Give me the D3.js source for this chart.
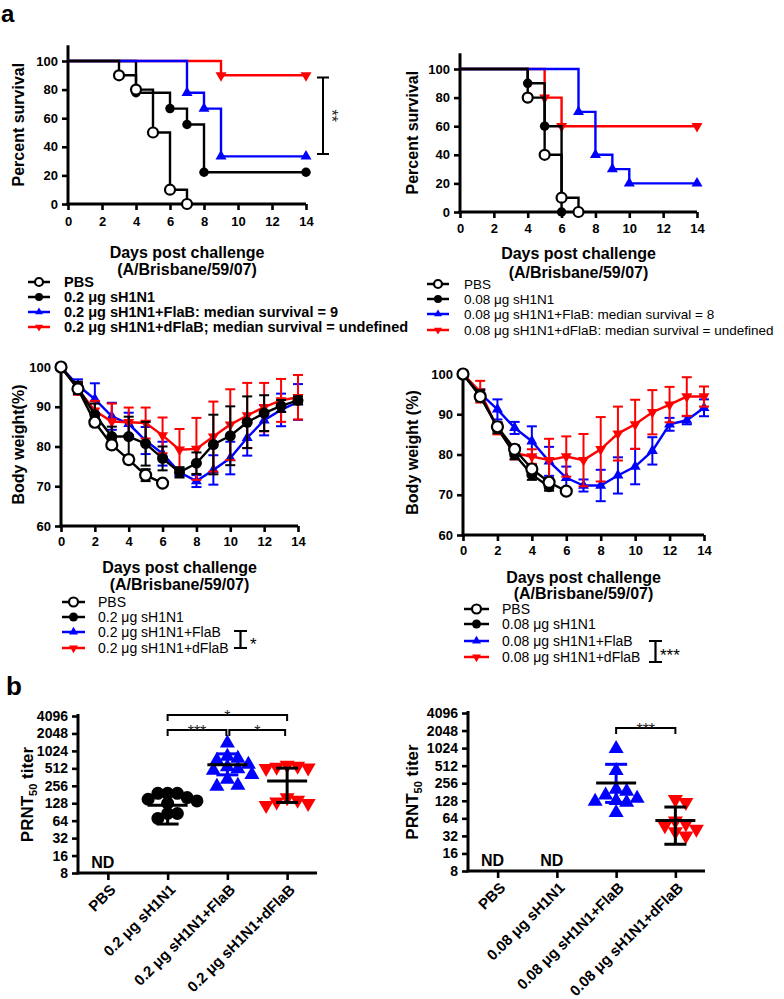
<!DOCTYPE html>
<html><head><meta charset="utf-8">
<script src="https://cdn.jsdelivr.net/npm/d3@7"></script>
<style>body{margin:0;background:#fff}svg{display:block}</style>
</head><body><svg id="c" width="784" height="999"></svg>
<script>
// ---------------- DATA ----------------
const survTicksX = [0,2,4,6,8,10,12,14];
const survTicksY = [0,20,40,60,80,100];
// Kaplan-Meier steps: [day, percent]
const survL_PBS   = [[3,90],[4,80],[5,50],[6,10],[7,0]];
const survL_sH    = [[4,77.8],[6,66.7],[7,55.6],[8,22.2],[14,22.2]];
const survL_FlaB  = [[7,77.8],[8,66.7],[9,33.3],[14,33.3]];
const survL_dFlaB = [[9,90],[14,90]];
const survR_PBS   = [[4,80],[5,40],[6,10],[7,0]];
const survR_sH    = [[4,90],[5,60],[6,0]];
const survR_FlaB  = [[7,70],[8,40],[9,30],[10,20],[14,20]];
const survR_dFlaB = [[5,80],[6,60],[14,60]];
const legendL_surv = ["PBS","0.2 μg sH1N1","0.2 μg sH1N1+FlaB: median survival = 9","0.2 μg sH1N1+dFlaB; median survival = undefined"];
const legendR_surv = ["PBS","0.08 μg sH1N1","0.08 μg sH1N1+FlaB: median survival = 8","0.08 μg sH1N1+dFlaB: median survival = undefined"];

const days = [0,1,2,3,4,5,6,7,8,9,10,11,12,13,14];
const wTicksY = [60,70,80,90,100];
const wL_PBS      = [100,94.5,86.1,80.4,76.7,72.8,70.8];
const wL_PBS_sd   = [0,1.2,1,1,1,1.5,0];
const wL_sH       = [100,94.8,88,82.5,82.5,80.7,77,73.5,75.8,80.5,82.7,86.1,88.4,90.2,91.6];
const wL_sH_sd    = [0,1.5,2.8,2.5,5,5.5,3,1.3,2.7,7.5,7.4,6.5,4.5,1.5,1];
const wL_FlaB     = [100,95.4,91.9,87.6,85.7,81.5,78.2,73.5,71.3,74.1,77.1,82.2,86.6,89.2,91.2];
const wL_FlaB_sd  = [0,1.5,4,3.4,2.8,3.4,3,1,1.5,3.7,4.1,4.5,3.8,4.1,4.5];
const wL_dFlaB    = [100,94.5,89,86.3,86.1,85.9,82.8,79.2,79.4,82.5,85.5,87.8,89.9,91.6,92.4];
const wL_dFlaB_sd = [0,1.5,2.5,4.5,3.7,3.9,4.5,5.2,7.8,8.8,8.9,8.2,6.1,5.4,5.6];
const wR_PBS      = [100,94.4,86.9,81.3,76.4,73.1,70.9];
const wR_PBS_sd   = [0,1,1,1,1,1,0];
const wR_sH       = [100,94.8,86.6,80,75,72];
const wR_sH_sd    = [0,1.2,1.3,1.2,1.3,1];
const wR_FlaB     = [100,95.2,91.2,86.6,83.3,78.3,74.2,72.3,72.3,74.8,77,80.9,87.5,88.5,91.6];
const wR_FlaB_sd  = [0,1,2.5,1.5,3.7,3.6,2.8,1.5,3.9,4.5,4.4,3.4,1.6,1,2.1];
const wR_dFlaB    = [100,95.6,86.5,80.3,79.5,78.6,79.5,78.6,81.3,85.2,87.5,90.5,92.4,94.4,94.4];
const wR_dFlaB_sd = [0,2.7,1.5,1.5,1.8,5.3,5,6.5,8,6.7,6.1,5.5,4.4,4.8,2.5];
const legendL_w = ["PBS","0.2 μg sH1N1","0.2 μg sH1N1+FlaB","0.2 μg sH1N1+dFlaB"];
const legendR_w = ["PBS","0.08 μg sH1N1","0.08 μg sH1N1+FlaB","0.08 μg sH1N1+dFlaB"];

const prntTicks = [8,16,32,64,128,256,512,1024,2048,4096];
const catsL = ["PBS","0.2 μg sH1N1","0.2 μg sH1N1+FlaB","0.2 μg sH1N1+dFlaB"];
const catsR = ["PBS","0.08 μg sH1N1","0.08 μg sH1N1+FlaB","0.08 μg sH1N1+dFlaB"];
const prntL_sH    = [190,190,190,160,150,140,128,85,85,70];
const prntL_FlaB  = [1390,820,760,700,600,540,500,470,400,330,260,250];
const prntL_dFlaB = [580,560,540,520,512,160,145,135,128,118];
const prntL_mean  = [null,118,590,310];
const prntL_lo    = [null,56,395,132];
const prntL_hi    = [null,180,910,516];
const prntR_FlaB  = [1000,420,200,185,160,140,128,125,120,80];
const prntR_dFlaB = [135,120,58,52,48,42,38,32];
const prntR_mean  = [null,null,258,59];
const prntR_lo    = [null,null,120,23];
const prntR_hi    = [null,null,540,100];
const ndL = [true,false,false,false];
const ndR = [true,true,false,false];

// ---------------- HELPERS ----------------
const FONT = '"Liberation Sans", Arial, Helvetica, sans-serif';
const BLUE = '#0000ff', RED = '#ff0000';
const svg = d3.select('#c');

function txt(g, x, y, s, size, bold, anchor) {
  return g.append('text').attr('x', x).attr('y', y).text(s)
    .attr('font-family', FONT).attr('font-size', size)
    .attr('font-weight', bold ? 'bold' : 'normal')
    .attr('text-anchor', anchor || 'start').attr('fill', '#000');
}

function marker(g, type, x, y, s) {
  if (type === 'open') {
    g.append('circle').attr('cx', x).attr('cy', y).attr('r', s/2)
      .attr('fill', '#fff').attr('stroke', '#000').attr('stroke-width', 2.2);
  } else if (type === 'fill') {
    g.append('circle').attr('cx', x).attr('cy', y).attr('r', s/2).attr('fill', '#000');
  } else {
    const area = Math.sqrt(3)/4 * s * s;
    const p = d3.symbol().type(d3.symbolTriangle).size(area)();
    g.append('path').attr('d', p)
      .attr('transform', `translate(${x},${y}) rotate(${type === 'down' ? 180 : 0})`)
      .attr('fill', type === 'down' ? RED : BLUE);
  }
}

function styleAxis(g, size) {
  g.select('.domain').remove();
  g.selectAll('.tick line').attr('stroke', '#000').attr('stroke-width', 2.6);
  g.selectAll('.tick text').attr('font-family', FONT).attr('font-size', size || 13)
    .attr('font-weight', 'bold').attr('fill', '#000');
}

function axes(g, x, y, cfg) {
  const gx = g.append('g').attr('transform', `translate(0,${cfg.y0})`)
    .call(d3.axisBottom(x).tickValues(cfg.xt).tickSize(6).tickPadding(cfg.xpad || 5));
  styleAxis(gx);
  const gy = g.append('g').attr('transform', `translate(${cfg.x0},0)`)
    .call(d3.axisLeft(y).tickValues(cfg.yt).tickSize(6).tickPadding(4).tickFormat(cfg.fmt || d3.format('d')));
  styleAxis(gy, cfg.yfs);
  g.append('line').attr('x1', cfg.x0).attr('x2', cfg.x0).attr('y1', cfg.yTop).attr('y2', cfg.y0 + 1.3)
    .attr('stroke', '#000').attr('stroke-width', 3);
  g.append('line').attr('x1', cfg.x0 - 1.3).attr('x2', cfg.xEnd).attr('y1', cfg.y0).attr('y2', cfg.y0)
    .attr('stroke', '#000').attr('stroke-width', 3);
}

function ytitle(g, cx, cy, s) {
  txt(g, 0, 0, s, 16, true, 'middle').attr('dy', '0.35em')
    .attr('transform', `translate(${cx},${cy}) rotate(-90)`);
}

function xtitle(g, cx, y1, y2) {
  txt(g, cx, y1, 'Days post challenge', 16, true, 'middle').attr('dy', '0.35em');
  txt(g, cx, y2, '(A/Brisbane/59/07)', 16, true, 'middle').attr('dy', '0.35em');
}

function legend(g, items, types, x1, x2, tx, ys, size, bold, msz) {
  const colors = ['#000', '#000', BLUE, RED];
  items.forEach((s, i) => {
    g.append('line').attr('x1', x1).attr('x2', x2).attr('y1', ys[i]).attr('y2', ys[i])
      .attr('stroke', colors[i]).attr('stroke-width', 2.5);
    marker(g, types[i], (x1 + x2) / 2, ys[i], msz);
    txt(g, tx, ys[i], s, size, bold, 'start').attr('dy', '0.35em');
  });
}

const TYPES = ['open', 'fill', 'up', 'down'];
const COLS = ['#000', '#000', BLUE, RED];

function survPanel(cfg) {
  const g = svg.append('g');
  const x = d3.scaleLinear().domain([0, 14]).range([cfg.x0, cfg.x1]);
  const y = d3.scaleLinear().domain([0, 100]).range([cfg.y0, cfg.y100]);
  axes(g, x, y, {x0: cfg.x0, y0: cfg.y0, xEnd: cfg.x1, yTop: y(111), xt: survTicksX, yt: survTicksY, xpad: cfg.xpad});
  [3, 1, 2, 0].forEach(k => {
    const ev = cfg.series[k];
    const pts = [[0, 100]];
    let prev = 100;
    ev.forEach(([d, v]) => { pts.push([d, prev]); pts.push([d, v]); prev = v; });
    g.append('path').attr('d', d3.line().x(p => x(p[0])).y(p => y(p[1]))(pts))
      .attr('fill', 'none').attr('stroke', COLS[k]).attr('stroke-width', 2.4);
    ev.forEach(([d, v]) => marker(g, TYPES[k], x(d), y(v), TYPES[k] === 'open' ? 10 : (k > 1 ? 11 : 9.5)));
  });
  ytitle(g, cfg.ytx, (y(111) + cfg.y0) / 2, 'Percent survival');
  xtitle(g, (cfg.x0 + cfg.x1) / 2, cfg.t1, cfg.t2);
  legend(g, cfg.legend, TYPES, cfg.lx1, cfg.lx2, cfg.ltx, cfg.lys, cfg.lfs, cfg.lbold, 8);
  return {g, x, y};
}

function weightPanel(cfg) {
  const g = svg.append('g');
  const x = d3.scaleLinear().domain([0, 14]).range([cfg.x0, cfg.x1]);
  const y = d3.scaleLinear().domain([60, 100]).range([cfg.y0, cfg.y100]);
  axes(g, x, y, {x0: cfg.x0, y0: cfg.y0, xEnd: cfg.x1, yTop: y(101), xt: survTicksX, yt: wTicksY, xpad: cfg.xpad});
  [2, 3, 1, 0].forEach(k => {
    const m = cfg.means[k], sd = cfg.sds[k];
    const col = COLS[k];
    m.forEach((v, i) => {
      if (!sd[i]) return;
      const xx = x(days[i]);
      g.append('line').attr('x1', xx).attr('x2', xx).attr('y1', y(v - sd[i])).attr('y2', y(v + sd[i]))
        .attr('stroke', col).attr('stroke-width', 2);
      [v - sd[i], v + sd[i]].forEach(e => g.append('line').attr('x1', xx - 5).attr('x2', xx + 5)
        .attr('y1', y(e)).attr('y2', y(e)).attr('stroke', col).attr('stroke-width', 2));
    });
    g.append('path').attr('d', d3.line().x((v, i) => x(days[i])).y(v => y(v))(m))
      .attr('fill', 'none').attr('stroke', col).attr('stroke-width', 2.4);
    m.forEach((v, i) => marker(g, TYPES[k], x(days[i]), y(v), 11));
  });
  ytitle(g, cfg.ytx, (y(101) + cfg.y0) / 2, cfg.ytitle);
  xtitle(g, (cfg.x0 + cfg.x1) / 2, cfg.t1, cfg.t2);
  legend(g, cfg.legend, TYPES, cfg.lx1, cfg.lx2, cfg.ltx, cfg.lys, cfg.lfs, false, 9);
  return {g, x, y};
}

function swarm(vals, cx, y, r) {
  const placed = [];
  vals.slice().sort((a, b) => b - a).forEach(v => {
    const py = y(v);
    for (let k = 0; k < 80; k++) {
      const off = (k % 2 ? 1 : -1) * Math.ceil(k / 2) * r * 0.5;
      const px = cx + off;
      if (placed.every(p => Math.hypot(p.x - px, p.y - py) >= r * 1.5)) { placed.push({x: px, y: py, v}); break; }
    }
  });
  return placed;
}

function prntPanel(cfg) {
  const g = svg.append('g');
  const x = d3.scalePoint().domain(cfg.cats).range([cfg.x0, cfg.x1]).padding(0.5);
  const y = d3.scaleLog().base(2).domain([8, 4096]).range([cfg.y0, cfg.y4096]);
  const gx = g.append('g').attr('transform', `translate(0,${cfg.y0})`)
    .call(d3.axisBottom(x).tickSize(7).tickFormat(''));
  styleAxis(gx);
  const gy = g.append('g').attr('transform', `translate(${cfg.x0},0)`)
    .call(d3.axisLeft(y).tickValues(prntTicks).tickSize(6).tickPadding(4).tickFormat(d3.format('d')));
  styleAxis(gy, 14);
  g.append('line').attr('x1', cfg.x0).attr('x2', cfg.x0).attr('y1', y(4096) - 2).attr('y2', cfg.y0 + 1.3)
    .attr('stroke', '#000').attr('stroke-width', 3);
  g.append('line').attr('x1', cfg.x0 - 1.3).attr('x2', cfg.x1).attr('y1', cfg.y0).attr('y2', cfg.y0)
    .attr('stroke', '#000').attr('stroke-width', 3);
  cfg.cats.forEach(c => {
    txt(g, 0, 0, c, 15, true, 'end').attr('dy', '0.35em')
      .attr('transform', `translate(${x(c) + 5},${cfg.y0 + 14}) rotate(-45)`);
  });
  cfg.nd.forEach((nd, i) => { if (nd) txt(g, x(cfg.cats[i]) - 5, y(8) - 11, 'ND', 16, true, 'middle').attr('dy', '0.35em'); });
  cfg.points.forEach((vals, i) => {
    if (!vals) return;
    const type = TYPES[i];
    const r = type === 'fill' ? 6.5 : 7;
    swarm(vals, x(cfg.cats[i]), y, r).forEach(p => marker(g, type, p.x, p.y, type === 'fill' ? 13 : 15));
  });
  cfg.mean.forEach((m, i) => {
    if (m == null) return;
    const cx = x(cfg.cats[i]);
    const wcol = i === 2 ? BLUE : '#000';
    g.append('line').attr('x1', cx).attr('x2', cx).attr('y1', y(cfg.lo[i])).attr('y2', y(cfg.hi[i]))
      .attr('stroke', wcol).attr('stroke-width', 3);
    [cfg.lo[i], cfg.hi[i]].forEach(e => g.append('line').attr('x1', cx - 11).attr('x2', cx + 11)
      .attr('y1', y(e)).attr('y2', y(e)).attr('stroke', wcol).attr('stroke-width', 3));
    g.append('line').attr('x1', cx - 20).attr('x2', cx + 20).attr('y1', y(m)).attr('y2', y(m))
      .attr('stroke', '#000').attr('stroke-width', 3);
  });
  const t = g.append('text').attr('transform', `translate(${cfg.ytx},${(y(4096) + cfg.y0) / 2}) rotate(-90)`)
    .attr('text-anchor', 'middle').attr('dy', '0.35em')
    .attr('font-family', FONT).attr('font-size', 17).attr('font-weight', 'bold');
  t.append('tspan').text('PRNT');
  t.append('tspan').text('50').attr('font-size', 11).attr('dy', 4);
  t.append('tspan').text(' titer').attr('dy', -4);
  cfg.sig.forEach(s => {
    const xa = x(cfg.cats[s.a]) + (s.da || 0), xb = x(cfg.cats[s.b]) + (s.db || 0);
    g.append('path').attr('d', `M${xa},${s.y + 6}V${s.y}H${xb}V${s.y + 6}`)
      .attr('fill', 'none').attr('stroke', '#000').attr('stroke-width', 2);
    txt(g, (xa + xb) / 2, s.y + 7, s.label, 16, false, 'middle').attr('fill', '#222');
  });
  return {g, x, y};
}

// ---------------- PANELS ----------------
txt(svg, 1, 22, 'a', 24, true, 'start');
txt(svg, 6, 695, 'b', 26, true, 'start');

const p1 = survPanel({
  x0: 68, x1: 306, y0: 204, y100: 61, xpad: 7, ytx: 18, t1: 252, t2: 269,
  series: [survL_PBS, survL_sH, survL_FlaB, survL_dFlaB],
  legend: legendL_surv, lx1: 28, lx2: 50, ltx: 64, lys: [282, 297, 312, 327], lfs: 14.5, lbold: true
});
(function () {
  const g = p1.g, y = p1.y;
  const xb = 323;
  g.append('path').attr('d', `M${xb - 6},${y(88.5)}H${xb + 6}M${xb},${y(88.5)}V${y(35)}M${xb - 6},${y(35)}H${xb + 6}`)
    .attr('fill', 'none').attr('stroke', '#000').attr('stroke-width', 2);
  txt(g, 0, 0, '**', 16, false, 'middle').attr('fill', '#222')
    .attr('transform', `translate(${xb + 3},${(y(88.5) + y(35)) / 2}) rotate(90)`);
})();

survPanel({
  x0: 460, x1: 697, y0: 212, y100: 69, xpad: 6, ytx: 412, t1: 253, t2: 272,
  series: [survR_PBS, survR_sH, survR_FlaB, survR_dFlaB],
  legend: legendR_surv, lx1: 427, lx2: 449, ltx: 464, lys: [284, 299, 314, 330], lfs: 13.5, lbold: false
});

const p3 = weightPanel({
  x0: 61, x1: 298, y0: 526, y100: 367, xpad: 5, ytx: 18, t1: 567, t2: 584, ytitle: 'Body weight(%)',
  means: [wL_PBS, wL_sH, wL_FlaB, wL_dFlaB], sds: [wL_PBS_sd, wL_sH_sd, wL_FlaB_sd, wL_dFlaB_sd],
  legend: legendL_w, lx1: 62, lx2: 85, ltx: 98, lys: [602, 617, 632, 648], lfs: 14
});
(function () {
  const g = p3.g;
  g.append('path').attr('d', 'M234,631H247M240.5,631V648M234,648H247')
    .attr('fill', 'none').attr('stroke', '#000').attr('stroke-width', 2.2);
  txt(g, 250, 650, '*', 17, false, 'start');
})();

const p4 = weightPanel({
  x0: 463, x1: 704, y0: 535, y100: 374, xpad: 5, ytx: 412, t1: 577, t2: 593, ytitle: 'Body weight (%)',
  means: [wR_PBS, wR_sH, wR_FlaB, wR_dFlaB], sds: [wR_PBS_sd, wR_sH_sd, wR_FlaB_sd, wR_dFlaB_sd],
  legend: legendR_w, lx1: 464, lx2: 489, ltx: 502, lys: [609, 624, 641, 657], lfs: 14
});
(function () {
  const g = p4.g;
  g.append('path').attr('d', 'M649,641H662M655.5,641V662M649,662H662')
    .attr('fill', 'none').attr('stroke', '#000').attr('stroke-width', 2.2);
  txt(g, 660, 661, '***', 17, false, 'start');
})();

prntPanel({
  x0: 78, x1: 317, y0: 873, y4096: 716, ytx: 27, cats: catsL, nd: ndL,
  points: [null, prntL_sH, prntL_FlaB, prntL_dFlaB],
  mean: prntL_mean, lo: prntL_lo, hi: prntL_hi,
  sig: [{a: 1, b: 3, y: 715, label: '*'}, {a: 1, b: 2, y: 730, label: '***', db: -1}, {a: 2, b: 3, y: 730, label: '*', da: 2, db: -2}]
});
prntPanel({
  x0: 468, x1: 705, y0: 871, y4096: 713, ytx: 412, cats: catsR, nd: ndR,
  points: [null, null, prntR_FlaB, prntR_dFlaB],
  mean: prntR_mean, lo: prntR_lo, hi: prntR_hi,
  sig: [{a: 2, b: 3, y: 728, label: '***'}]
});
</script>
</body></html>
